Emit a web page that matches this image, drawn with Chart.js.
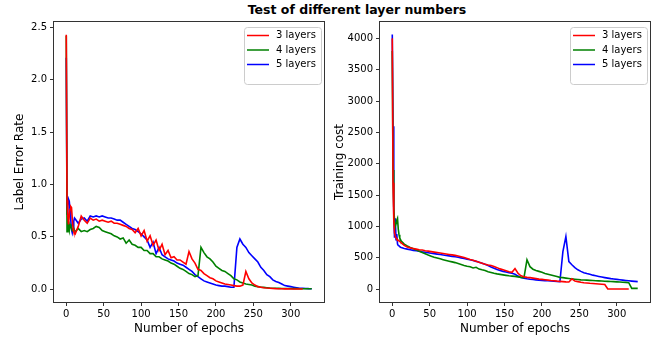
<!DOCTYPE html>
<html>
<head>
<meta charset="utf-8">
<script src="https://cdn.jsdelivr.net/npm/chart.js@4.4.1/dist/chart.umd.min.js"></script>
<style>
  body { margin: 0; background: #fff; width: 660px; height: 342px; overflow: hidden; position: relative; font-family: "DejaVu Sans", sans-serif; }
  #title { position: absolute; top: 2px; left: 357px; transform: translateX(-50%); font-weight: bold; font-size: 12.5px; white-space: nowrap; color: #000; }
  .box { position: absolute; top: 0; width: 330px; height: 342px; }
</style>
</head>
<body>
<div id="title">Test of different layer numbers</div>
<div class="box" style="left:0"><canvas id="errChart" width="330" height="342"></canvas></div>
<div class="box" style="left:326px"><canvas id="costChart" width="330" height="342"></canvas></div>
<script>
// epochs (dense at the start, every 4 after)
const epochs = [0, 1, 2, 3, 4, 5, 6, 7, 8, 9, 10, 11,
  12, 16, 20, 24, 28, 32, 36, 40, 44, 48,
  52, 56, 60, 64, 68, 72, 76, 80, 84, 88,
  92, 96, 100, 104, 108, 112, 116, 120, 124, 128,
  132, 136, 140, 144, 148, 152, 156, 160, 164, 168,
  172, 176, 180, 184, 188, 192, 196, 200, 204, 208,
  212, 216, 220, 224, 228, 232, 236, 240, 244, 248,
  252, 256, 260, 264, 268, 272, 276, 280, 284, 288,
  292, 296, 300, 304, 308, 312, 316, 320, 324, 328];

const seriesNames = ["3 layers", "4 layers", "5 layers"];
const xTicks = [0, 50, 100, 150, 200, 250, 300];
const errTicks = [0, 0.5, 1.0, 1.5, 2.0, 2.5];
const costTicks = [0, 500, 1000, 1500, 2000, 2500, 3000, 3500, 4000];

// label error rate
const err3 = [2.43, 0.85, 0.70, 0.62, 0.70, 0.76, 0.79, 0.78, 0.68, 0.58, 0.55, 0.54,
  0.53, 0.60, 0.70, 0.66, 0.63, 0.68, 0.66, 0.67, 0.65, 0.66,
  0.65, 0.64, 0.65, 0.63, 0.63, 0.62, 0.61, 0.60, 0.58, 0.57,
  0.54, 0.58, 0.51, 0.56, 0.46, 0.51, 0.42, 0.47, 0.37, 0.43,
  0.33, 0.37, 0.30, 0.31, 0.28, 0.28, 0.26, 0.24, 0.36, 0.29,
  0.25, 0.19, 0.18, 0.15, 0.13, 0.11, 0.10, 0.08, 0.07, 0.06,
  0.05, 0.045, 0.04, 0.035, 0.03, 0.03, 0.04, 0.17, 0.10, 0.06,
  0.04, 0.025, 0.02, 0.015, 0.012, 0.01, 0.008, 0.006, 0.005, 0.005,
  0.004, 0.004, 0.003, 0.003, 0.003, 0.002, 0.002, null, null, null];
const err4 = [2.42, 0.55, 0.72, 0.60, 0.56, 0.62, 0.60, 0.58, 0.56, 0.57, 0.58, 0.56,
  0.55, 0.58, 0.55, 0.56, 0.55, 0.57, 0.58, 0.60, 0.59, 0.56,
  0.55, 0.54, 0.53, 0.51, 0.50, 0.48, 0.49, 0.44, 0.47, 0.43,
  0.42, 0.40, 0.40, 0.37, 0.37, 0.34, 0.34, 0.31, 0.31, 0.29,
  0.28, 0.27, 0.25, 0.24, 0.22, 0.20, 0.19, 0.17, 0.15, 0.14,
  0.12, 0.13, 0.40, 0.35, 0.31, 0.29, 0.26, 0.22, 0.20, 0.18,
  0.17, 0.15, 0.13, 0.10, 0.09, 0.07, 0.06, 0.05, 0.045, 0.04,
  0.03, 0.025, 0.02, 0.018, 0.015, 0.012, 0.01, 0.01, 0.009, 0.008,
  0.008, 0.007, 0.007, 0.006, 0.006, 0.005, 0.005, 0.005, 0.005, 0.005];
const err5 = [2.21, 0.72, 0.80, 0.86, 0.84, 0.76, 0.66, 0.57, 0.54, 0.58, 0.65, 0.68,
  0.67, 0.63, 0.67, 0.68, 0.65, 0.70, 0.69, 0.70, 0.69, 0.70,
  0.69, 0.68, 0.68, 0.67, 0.66, 0.66, 0.64, 0.62, 0.60, 0.58,
  0.57, 0.55, 0.53, 0.50, 0.47, 0.40, 0.45, 0.34, 0.40, 0.33,
  0.31, 0.29, 0.28, 0.27, 0.25, 0.24, 0.23, 0.21, 0.19, 0.17,
  0.14, 0.12, 0.10, 0.08, 0.07, 0.06, 0.05, 0.04, 0.035, 0.03,
  0.03, 0.025, 0.02, 0.02, 0.40, 0.48, 0.43, 0.40, 0.35, 0.32,
  0.29, 0.26, 0.21, 0.18, 0.14, 0.12, 0.09, 0.075, 0.065, 0.05,
  0.035, 0.03, 0.025, 0.02, 0.015, 0.01, 0.01, 0.008, 0.006, 0.005];

// training cost
const cost3 = [4000, 1700, 1100, 900, 850, 820, 800, 790, 780, 770, 762, 750,
  740, 700, 675, 660, 650, 640, 630, 625, 615, 608,
  600, 592, 585, 578, 570, 562, 555, 548, 540, 530,
  518, 505, 490, 475, 462, 448, 430, 415, 400, 388,
  378, 362, 345, 325, 310, 295, 280, 270, 330, 255,
  215, 200, 190, 185, 178, 170, 162, 158, 152, 146,
  140, 136, 130, 126, 122, 118, 116, 165, 130, 122,
  112, 105, 100, 95, 92, 88, 84, 80, 75, 5,
  5, 5, 5, 5, 5, 5, 5, null, null, null];
const cost4 = [3800, 1900, 1300, 1100, 1000, 1050, 1100, 1130, 960, 870, 820, 790,
  770, 720, 690, 665, 645, 628, 605, 585, 565, 545,
  528, 512, 498, 485, 472, 460, 448, 437, 425, 410,
  395, 380, 368, 358, 340, 350, 322, 310, 300, 280,
  268, 255, 245, 238, 230, 222, 215, 210, 205, 198,
  190, 185, 470, 360, 320, 298, 285, 270, 252, 240,
  228, 215, 202, 190, 185, 178, 172, 165, 160, 155,
  150, 147, 145, 142, 140, 137, 134, 132, 129, 126,
  124, 122, 118, 115, 112, 110, 105, 15, 15, 15];
const cost5 = [4060, 2600, 1200, 820, 1130, 790, 880, 720, 700, 690, 680, 670,
  665, 650, 640, 630, 620, 615, 608, 598, 590, 582,
  575, 568, 560, 553, 546, 539, 532, 525, 518, 510,
  500, 490, 480, 470, 458, 445, 430, 415, 398, 380,
  355, 335, 315, 298, 285, 275, 265, 255, 240, 210,
  188, 178, 168, 160, 155, 150, 146, 142, 138, 135,
  132, 128, 124, 120, 600, 840, 440, 390, 345, 310,
  285, 265, 250, 238, 225, 215, 205, 195, 186, 178,
  170, 164, 158, 152, 146, 140, 135, 130, 126, 122];

const colors = ["#ff0000", "#008000", "#0000ff"];
const FONT = '"DejaVu Sans", sans-serif';

function toPoints(vals) {
  return epochs.map((e, i) => ({ x: e, y: vals[i] }));
}

// matplotlib style box frame round the plot
const framePlugin = {
  id: "frame",
  afterDraw(chart) {
    const { ctx, chartArea: a } = chart;
    ctx.save();
    ctx.strokeStyle = "#333";
    ctx.lineWidth = 1;
    ctx.strokeRect(Math.round(a.left) - 0.5, Math.round(a.top) - 0.5,
      Math.round(a.right - a.left) + 1, Math.round(a.bottom - a.top) + 1);
    ctx.restore();
  }
};

// legend box in the upper right corner
const boxLegend = {
  id: "boxLegend",
  afterDraw(chart) {
    const { ctx, chartArea: a } = chart;
    const w = 77, h = 57;
    const x0 = Math.round(a.right) - 3 - w, y0 = Math.round(a.top) + 5;
    ctx.save();
    ctx.fillStyle = "rgba(255,255,255,0.8)";
    ctx.strokeStyle = "#cccccc";
    ctx.lineWidth = 1;
    ctx.beginPath();
    ctx.roundRect(x0 + 0.5, y0 + 0.5, w, h, 3);
    ctx.fill();
    ctx.stroke();
    ctx.font = "10px " + FONT;
    ctx.textBaseline = "middle";
    chart.data.datasets.forEach((ds, i) => {
      const y = y0 + 8.5 + i * 14.5;
      ctx.strokeStyle = ds.borderColor;
      ctx.lineWidth = 1.5;
      ctx.beginPath();
      ctx.moveTo(x0 + 3, y);
      ctx.lineTo(x0 + 25, y);
      ctx.stroke();
      ctx.fillStyle = "#000";
      ctx.fillText(ds.label, x0 + 32, y);
    });
    ctx.restore();
  }
};

function drawPanel(id, series, yMin, yMax, yTicks, yLabel, yFmt, titlePad) {
  const ctx = document.getElementById(id).getContext("2d");
  new Chart(ctx, {
    type: "line",
    data: {
      datasets: series.map((vals, i) => ({
        label: seriesNames[i],
        data: toPoints(vals),
        borderColor: colors[i],
        backgroundColor: colors[i],
        borderWidth: 1.6,
        pointRadius: 0,
        tension: 0,
        fill: false
      }))
    },
    options: {
      responsive: false,
      animation: false,
      layout: { padding: { top: 22, right: 6, left: 0, bottom: 0 } },
      scales: {
        x: {
          type: "linear",
          min: -16.4,
          max: 344.4,
          afterBuildTicks: s => { s.ticks = xTicks.map(v => ({ value: v })); },
          afterFit: s => { s.height = 40; },
          ticks: { color: "#000", font: { size: 10, family: FONT }, padding: 2, maxRotation: 0, autoSkip: false },
          grid: { drawOnChartArea: false, drawTicks: true, tickLength: 4, color: "#333" },
          border: { display: false },
          title: { display: true, text: "Number of epochs", color: "#000", font: { size: 12, family: FONT }, padding: { top: 0, bottom: 6 } }
        },
        y: {
          min: yMin,
          max: yMax,
          afterBuildTicks: s => { s.ticks = yTicks.map(v => ({ value: v })); },
          afterFit: s => { s.width = 54; },
          ticks: { color: "#000", font: { size: 10, family: FONT }, padding: 3, callback: yFmt, autoSkip: false },
          grid: { drawOnChartArea: false, drawTicks: true, tickLength: 4, color: "#333" },
          border: { display: false },
          title: { display: true, text: yLabel, color: "#000", font: { size: 12, family: FONT }, padding: { top: titlePad, bottom: 0 } }
        }
      },
      plugins: {
        legend: { display: false },
        tooltip: { enabled: false }
      }
    },
    plugins: [framePlugin, boxLegend]
  });
}

drawPanel("errChart", [err3, err4, err5], -0.1215, 2.5515, errTicks, "Label Error Rate", v => v.toFixed(1), 13);
drawPanel("costChart", [cost3, cost4, cost5], -203, 4261, costTicks, "Training cost", v => String(v), 7);
</script>
</body>
</html>
